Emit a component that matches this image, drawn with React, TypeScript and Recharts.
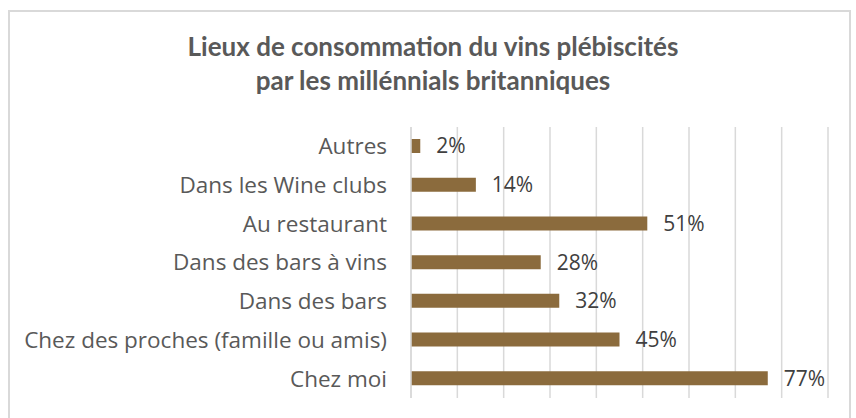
import { BarChart, Bar, XAxis, YAxis, CartesianGrid, LabelList } from 'recharts'

const lieux = [
  'Autres',
  'Dans les Wine clubs',
  'Au restaurant',
  'Dans des bars à vins',
  'Dans des bars',
  'Chez des proches (famille ou amis)',
  'Chez moi',
]
const parts = [2, 14, 51, 28, 32, 45, 77]
const graduations = [0, 10, 20, 30, 40, 50, 60, 70, 80, 90]

const data = lieux.map((lieu, i) => ({ lieu, part: parts[i] }))

const titleFont = 'Lato, "Open Sans", sans-serif'
const font = '"Open Sans", Lato, sans-serif'

export default function App() {
  return (
    <div style={{ position: 'absolute', left: 0, top: 0, width: 856, height: 418, background: '#fff', overflow: 'hidden' }}>
      <div style={{
        position: 'absolute', left: 8, top: 10, width: 843, height: 420,
        border: '2px solid #d9d9d9', boxSizing: 'border-box',
      }} />
      <div style={{
        position: 'absolute', left: 0, top: 29, width: 866, textAlign: 'center',
        fontFamily: titleFont, fontWeight: 700, fontSize: 26, lineHeight: '34px', color: '#595959',
      }}>
        Lieux de consommation du vins plébiscités<br />par les millénnials britanniques
      </div>
      <BarChart
        layout="vertical"
        width={856}
        height={418}
        data={data}
        margin={{ top: 127, right: 28, bottom: 20, left: 0 }}
        style={{ position: 'absolute', left: 0, top: 0 }}
      >
        <CartesianGrid horizontal={false} stroke="#d9d9d9" strokeWidth={1.5} />
        <XAxis type="number" domain={[0, 90]} ticks={graduations} hide />
        <YAxis
          type="category"
          dataKey="lieu"
          width={411}
          axisLine={{ stroke: '#d9d9d9', strokeWidth: 1.5 }}
          tickLine={false}
          tickSize={0}
          tickMargin={24}
          tick={{ fill: '#595959', fontSize: 22.5, fontFamily: font }}
        />
        <Bar dataKey="part" fill="#8b6b3d" barSize={14} isAnimationActive={false}>
          <LabelList
            dataKey="part"
            position="right"
            offset={16}
            formatter={(v: any) => `${v}%`}
            style={{ fill: '#404040', fontSize: 21, fontFamily: font }}
          />
        </Bar>
      </BarChart>
    </div>
  )
}
